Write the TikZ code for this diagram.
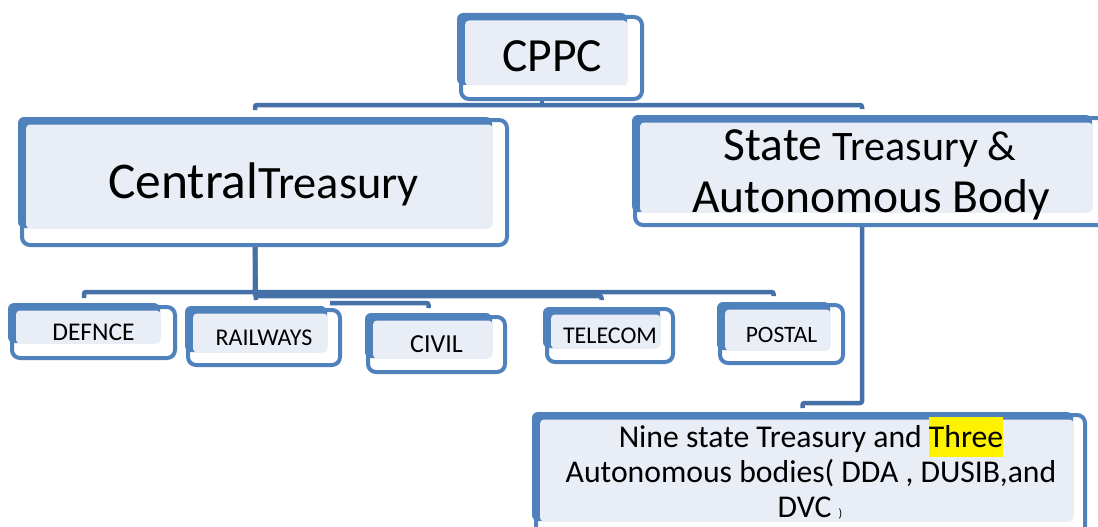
\documentclass[tikz,border=0pt]{standalone}
\usepackage{fontspec}
\setmainfont{Carlito}
\usetikzlibrary{backgrounds}

\definecolor{boxblue}{RGB}{79,129,189}
\definecolor{connblue}{RGB}{70,112,168}
\definecolor{paleblue}{RGB}{233,238,246}

\tikzset{
  backshape/.style={fill=boxblue, rounded corners=6pt},
  paleshape/.style={fill=paleblue, rounded corners=4pt},
  frontbox/.style={draw=boxblue, line width=4pt, rounded corners=8pt,
    inner sep=0pt, outer sep=0pt},
  backbox/.style={inner sep=0pt, outer sep=0pt},
  conn/.style={draw=connblue, line width=4.5pt, rounded corners=2pt},
  txt/.style={inner sep=0pt, outer sep=0pt, anchor=base, text=black}
}

% #1 name, #2-#5 back (filled) rectangle, #6-#9 front (outlined) rectangle
\newcommand\skbox[9]{%
  \fill[backshape] (#2,#3) rectangle (#4,#5);
  \fill[paleshape] ({#2+8},{#3+7.5}) rectangle ({#4+0.5},{#5+0.5});
  \node[backbox, minimum width={(#4-#2)*1pt}, minimum height={(#5-#3)*1pt}]
    (#1-back) at ({(#2+#4)/2},{(#3+#5)/2}) {};
  \node[frontbox, minimum width={(#8-#6)*1pt}, minimum height={(#9-#7)*1pt}]
    (#1) at ({(#6+#8)/2},{(#7+#9)/2}) {};
}

\begin{document}
\begin{tikzpicture}[x=1pt,y=-1pt]
\useasboundingbox (0,0) rectangle (1098,527);
\clip (0,0) rectangle (1098,527);

% boxes
\skbox{cppc}{457}{13}{627}{85}{461}{17}{642}{99}
\skbox{central}{18}{117}{492}{228}{22}{120}{507}{245}
\skbox{state}{632}{115}{1092}{212}{635}{118}{1115}{225}
\skbox{bodies}{532}{412}{1073}{521}{536}{415}{1085}{545}
\skbox{defnce}{8}{303}{160}{343}{12}{307}{175}{358}
\skbox{railways}{185}{306}{327}{352}{188}{310}{340}{365}
\skbox{civil}{365}{313}{492}{358}{368}{317}{505}{372}
\skbox{telecom}{543}{307}{660}{348}{547}{309}{673}{362}
\skbox{postal}{717}{302}{830}{350}{720}{305}{843}{363}

% labels
\node[txt, font=\fontsize{47.6}{50}\selectfont] (cppc-t) at (552,72) {CPPC};
\node[txt] (central-t) at (263.5,198)
  {\fontsize{51.5}{55}\selectfont Central\fontsize{46.4}{50}\selectfont Treasury};
\node[txt] (state-t1) at (870,160)
  {\fontsize{47.5}{50}\selectfont State \fontsize{42}{45}\selectfont Treasury \&};
\node[txt, font=\fontsize{47.5}{50}\selectfont] (state-t2) at (871,212) {Autonomous Body};

\node[txt, font=\fontsize{25.5}{28}\selectfont] (defnce-t) at (93.5,340) {DEFNCE};
\node[txt, font=\fontsize{24}{28}\selectfont] (railways-t) at (264,345) {RAILWAYS};
\node[txt, font=\fontsize{26}{28}\selectfont] (civil-t) at (436.5,352) {CIVIL};
\node[txt, font=\fontsize{24}{28}\selectfont] (telecom-t) at (610,343) {TELECOM};
\node[txt, font=\fontsize{23.5}{28}\selectfont] (postal-t) at (781.5,342) {POSTAL};

\node[txt, font=\fontsize{31.7}{35}\selectfont] (bodies-t1) at (811,447)
  {Nine state Treasury and {\setlength{\fboxsep}{0pt}\colorbox{yellow}{\rule[-10pt]{0pt}{40pt}Three}}};
\node[txt, font=\fontsize{31.7}{35}\selectfont] (bodies-t2) at (811,482)
  {Autonomous bodies( DDA , DUSIB,and};
\node[txt, font=\fontsize{31.7}{35}\selectfont] (bodies-t3) at (810,517)
  {DVC {\fontsize{12}{12}\selectfont )}};

% connectors, kept behind the boxes
\begin{pgfonlayer}{background}
  \coordinate (j1) at (542,105);
  \coordinate (busA) at (0,292);
  \coordinate (busB) at (0,296);
  \coordinate (civil-j) at (330,303);
  \coordinate (j3) at (0,403);

  \draw[conn] (cppc-back.south |- cppc.south) -- (j1);
  \draw[conn, shorten >=7pt] (j1) -| (central-back.north);
  \draw[conn, shorten >=6pt] (j1) -| (state-back.north);

  \draw[conn, shorten >=5pt] (central-back.south |- central.south)
    |- (busA -| defnce-back.north) -- (defnce-back.north);
  \draw[conn, shorten >=6pt] (central-back.south |- central.south) -- (railways-back.north);
  \draw[conn, shorten >=5pt] (civil-j) -| (civil-back.north);
  \draw[conn, shorten >=7pt] (central-back.south |- central.south)
    |- (busB -| telecom-back.north) -- (telecom-back.north);
  \draw[conn, shorten >=6pt] (central-back.south |- central.south)
    |- (busA -| postal-back.north) -- (postal-back.north);

  \draw[conn, shorten >=4pt] (state-back.south |- state.south)
    |- (j3 -| bodies-back.north) -- (bodies-back.north);
\end{pgfonlayer}
\end{tikzpicture}
\end{document}
